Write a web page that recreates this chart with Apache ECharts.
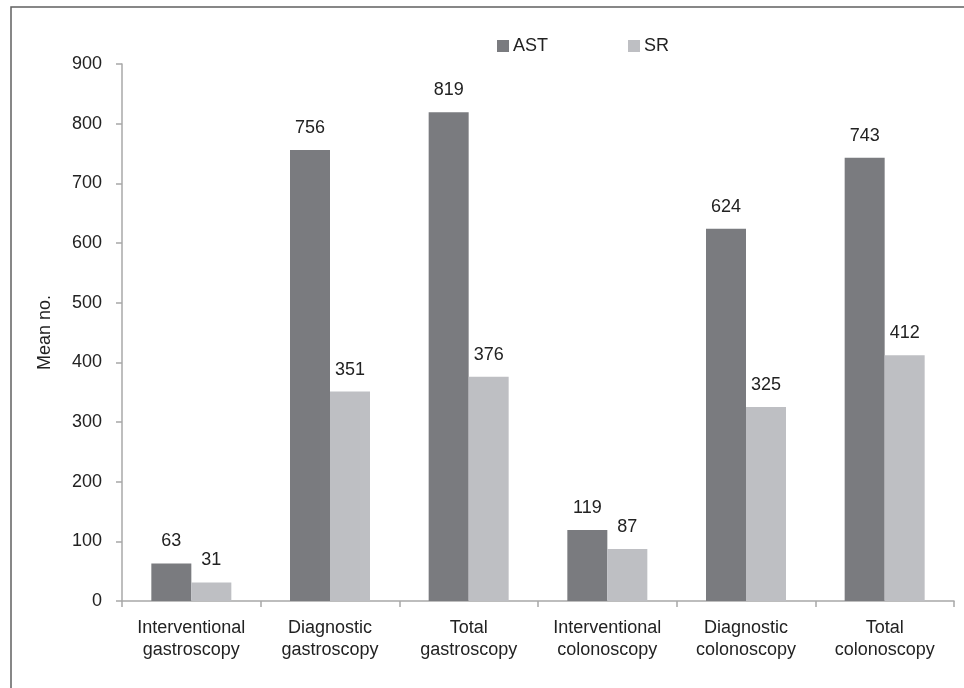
<!DOCTYPE html>
<html>
<head>
<meta charset="utf-8">
<script src="https://cdn.jsdelivr.net/npm/echarts@6/dist/echarts.min.js"></script>
<style>
  html, body { margin: 0; padding: 0; background: #fff; }
  #chart { width: 964px; height: 688px; }
</style>
</head>
<body>
<div id="chart"></div>
<script>
// Procedure categories (two-line labels)
const categories = [
  'Interventional\ngastroscopy',
  'Diagnostic\ngastroscopy',
  'Total\ngastroscopy',
  'Interventional\ncolonoscopy',
  'Diagnostic\ncolonoscopy',
  'Total\ncolonoscopy'
];
// Mean number of procedures per group
const astValues = [63, 756, 819, 119, 624, 743];
const srValues = [31, 351, 376, 87, 325, 412];
// Value axis ticks
const yMin = 0;
const yMax = 900;
const yStep = 100;

const FONT = '"Liberation Sans", Arial, sans-serif';
const TEXT = '#222222';
const AXIS = '#a8a8a8';

const chart = echarts.init(document.getElementById('chart'), null, { renderer: 'canvas' });

const barLabel = {
  show: true,
  position: 'top',
  distance: 13,
  color: TEXT,
  fontFamily: FONT,
  fontSize: 18
};

chart.setOption({
  backgroundColor: '#ffffff',
  animation: false,
  graphic: [{
    type: 'rect',
    shape: { x: 11, y: 7, width: 1000, height: 1000 },
    style: { fill: 'none', stroke: '#606060', lineWidth: 1.5 },
    silent: true
  }],
  legend: {
    left: 497,
    top: 37,
    padding: 0,
    itemWidth: 12,
    itemHeight: 12,
    itemGap: 80,
    icon: 'rect',
    textStyle: { color: TEXT, fontFamily: FONT, fontSize: 18, padding: [0, 0, 0, -1] },
    data: ['AST', 'SR']
  },
  grid: { left: 122, right: 10, top: 64, bottom: 87, containLabel: false },
  xAxis: {
    type: 'category',
    data: categories,
    axisLine: { lineStyle: { color: AXIS, width: 1.5 } },
    axisTick: { show: true, length: 6, lineStyle: { color: AXIS, width: 1.5 } },
    axisLabel: {
      color: TEXT, fontFamily: FONT, fontSize: 18, lineHeight: 22, margin: 16, interval: 0
    }
  },
  yAxis: {
    type: 'value',
    min: yMin,
    max: yMax,
    interval: yStep,
    name: 'Mean no.',
    nameLocation: 'middle',
    nameGap: 68,
    nameRotate: 90,
    nameTextStyle: { color: TEXT, fontFamily: FONT, fontSize: 18 },
    axisLine: { show: true, lineStyle: { color: AXIS, width: 1.5 } },
    axisTick: { show: true, length: 6, lineStyle: { color: AXIS, width: 1.5 } },
    splitLine: { show: false },
    axisLabel: { color: TEXT, fontFamily: FONT, fontSize: 18, margin: 20 }
  },
  series: [
    {
      name: 'AST',
      type: 'bar',
      data: astValues,
      barWidth: 40,
      barGap: '0%',
      itemStyle: { color: '#7a7b7f' },
      label: barLabel
    },
    {
      name: 'SR',
      type: 'bar',
      data: srValues,
      barWidth: 40,
      itemStyle: { color: '#bebfc3' },
      label: barLabel
    }
  ]
});
</script>
</body>
</html>
